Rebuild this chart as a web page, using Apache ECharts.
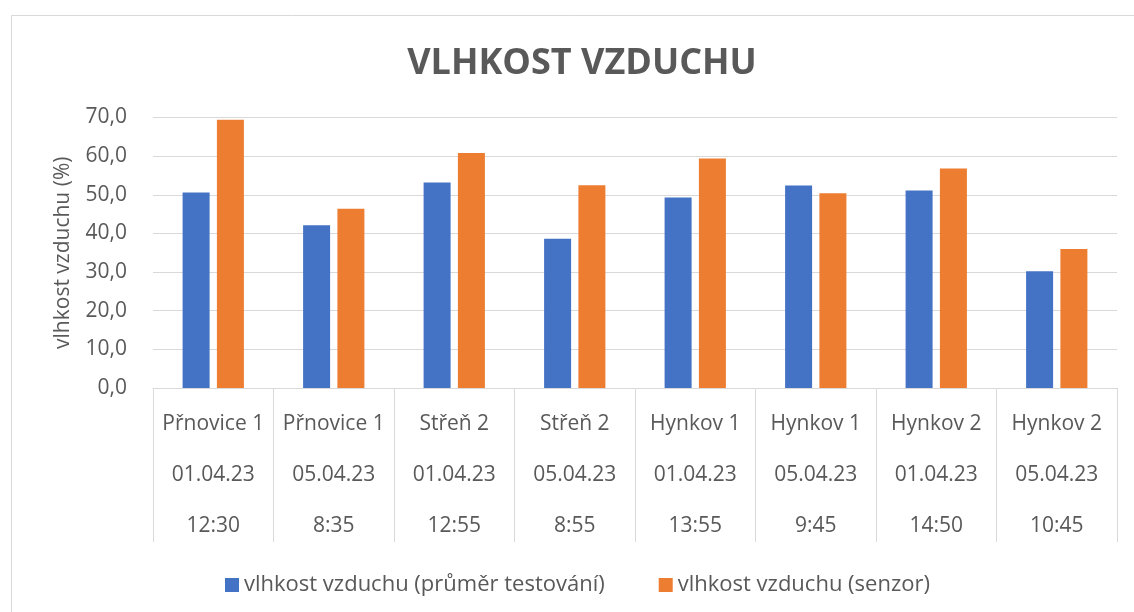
<!DOCTYPE html>
<html>
<head>
<meta charset="utf-8">
<script src="https://cdn.jsdelivr.net/npm/echarts@6/dist/echarts.min.js"></script>
<style>
  html, body { margin: 0; padding: 0; background: #fff; }
  #chart { width: 1134px; height: 612px; }
</style>
</head>
<body>
<div id="chart"></div>
<script>
// kategorie: místo / datum / čas
const places = ['Přnovice 1', 'Přnovice 1', 'Střeň 2', 'Střeň 2', 'Hynkov 1', 'Hynkov 1', 'Hynkov 2', 'Hynkov 2']
const dates = ['01.04.23', '05.04.23', '01.04.23', '05.04.23', '01.04.23', '05.04.23', '01.04.23', '05.04.23']
const times = ['12:30', '8:35', '12:55', '8:55', '13:55', '9:45', '14:50', '10:45']

// hodnoty
const avgTesting = [50.6, 42.1, 53.2, 38.6, 49.3, 52.4, 51.1, 30.2]
const sensor = [69.4, 46.4, 60.8, 52.5, 59.4, 50.4, 56.8, 36.0]

const seriesNames = ['vlhkost vzduchu (průměr testování)', 'vlhkost vzduchu (senzor)']
const titleText = 'VLHKOST VZDUCHU'
const yName = 'vlhkost vzduchu (%)'

const categories = places.map((p, i) => p + '\n' + dates[i] + '\n' + times[i])

const textColor = '#595959'
const lineColor = '#d9d9d9'
const font = '"Open Sans", "Noto Sans", sans-serif'

const chart = echarts.init(document.getElementById('chart'), null, { renderer: 'canvas' })

const option = {
  backgroundColor: '#fff',
  textStyle: { fontFamily: font },
  animation: false,
  graphic: [
    {
      type: 'rect',
      shape: { x: 11.5, y: 15.5, width: 1200, height: 700 },
      style: { fill: 'none', stroke: lineColor, lineWidth: 1 },
      silent: true
    }
  ],
  title: {
    text: titleText,
    left: 577,
    textAlign: 'center',
    top: 41,
    textStyle: {
      fontFamily: font,
      fontSize: 36,
      fontWeight: 'bold',
      color: textColor
    }
  },
  legend: {
    left: 220,
    top: 569,
    icon: 'rect',
    itemWidth: 14,
    itemHeight: 14,
    itemGap: 54,
    textStyle: { fontFamily: font, fontSize: 22, color: textColor },
    data: seriesNames
  },
  grid: {
    left: 153,
    right: 17,
    top: 117.5,
    bottom: 224
  },
  xAxis: {
    type: 'category',
    data: categories,
    axisLine: { lineStyle: { color: lineColor } },
    axisTick: { show: true, length: 154, lineStyle: { color: lineColor } },
    axisLabel: {
      margin: 11,
      interval: 0,
      fontFamily: font,
      fontSize: 21,
      lineHeight: 51,
      color: textColor
    },
    splitLine: { show: false }
  },
  yAxis: {
    type: 'value',
    min: 0,
    max: 70,
    interval: 10,
    name: yName,
    nameLocation: 'middle',
    nameGap: 79,
    nameTextStyle: { fontFamily: font, fontSize: 21, color: textColor },
    axisLine: { show: false },
    axisTick: { show: false },
    axisLabel: {
      margin: 26,
      fontFamily: font,
      fontSize: 21,
      color: textColor,
      formatter: v => v.toFixed(1).replace('.', ',')
    },
    splitLine: { lineStyle: { color: lineColor, width: 1 } }
  },
  series: [
    {
      name: seriesNames[0],
      type: 'bar',
      data: avgTesting,
      barWidth: 27,
      barGap: '27%',
      itemStyle: { color: '#4472c4' }
    },
    {
      name: seriesNames[1],
      type: 'bar',
      data: sensor,
      barWidth: 27,
      barGap: '27%',
      itemStyle: { color: '#ed7d31' }
    }
  ]
}

chart.setOption(option)
</script>
</body>
</html>
